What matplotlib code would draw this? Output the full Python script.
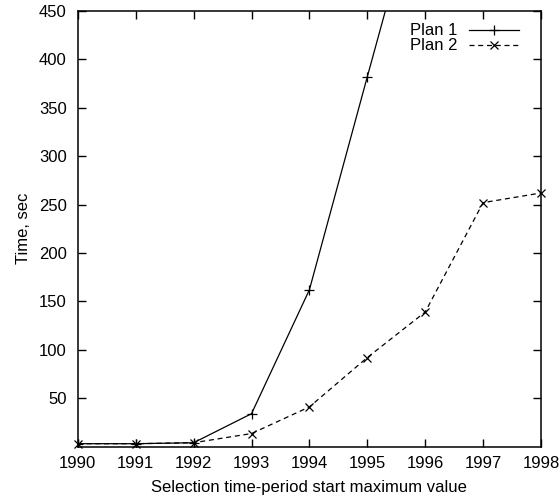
import matplotlib
matplotlib.use("Agg")
import matplotlib.pyplot as plt

plt.rcParams['font.family'] = ['Liberation Sans', 'DejaVu Sans']

# Temps d'exécution par année de début
years = [1990, 1991, 1992, 1993, 1994, 1995, 1996]
plan1 = [3, 3, 4, 34, 162, 382, 600]
years2 = [1990, 1991, 1992, 1993, 1994, 1995, 1996, 1997, 1998]
plan2 = [3, 3, 4, 13.5, 41, 92, 139, 252, 262]

xticks = list(range(1990, 1999))
yticks = [50, 100, 150, 200, 250, 300, 350, 400, 450]

fig = plt.figure(figsize=(5.6, 4.99), dpi=100)
ax = fig.add_axes([0.139, 0.105, 0.827, 0.873])

ax.plot(years, plan1, color='black', linewidth=0.9, marker='+',
        markersize=7, markeredgewidth=0.9, label='Plan 1', clip_on=True)
ax.plot(years2, plan2, color='black', linewidth=0.9, linestyle=(0, (4, 3)),
        marker='x', markersize=6, markeredgewidth=0.9, label='Plan 2',
        clip_on=False)

ax.set_xlim(1990, 1998)
ax.set_ylim(0, 450)
ax.set_xticks(xticks)
ax.set_yticks(yticks)
ax.set_xticklabels([str(y) for y in xticks])
ax.tick_params(direction='in', top=True, right=True, length=6, width=1,
               labelsize=12)
ax.tick_params(axis='y', pad=8)
ax.tick_params(axis='x', pad=7)
for s in ax.spines.values():
    s.set_linewidth(1.1)

ax.set_xlabel('Selection time-period start maximum value', fontsize=12,
              labelpad=6)
ax.set_ylabel('Time, sec', fontsize=12, labelpad=6)

ax.legend(loc='upper right', bbox_to_anchor=(0.98, 1.0), frameon=False,
          markerfirst=False, fontsize=12, handlelength=3.0,
          borderaxespad=0.35, labelspacing=0.0, handletextpad=0.7)

fig.savefig('out.png', dpi=100)
